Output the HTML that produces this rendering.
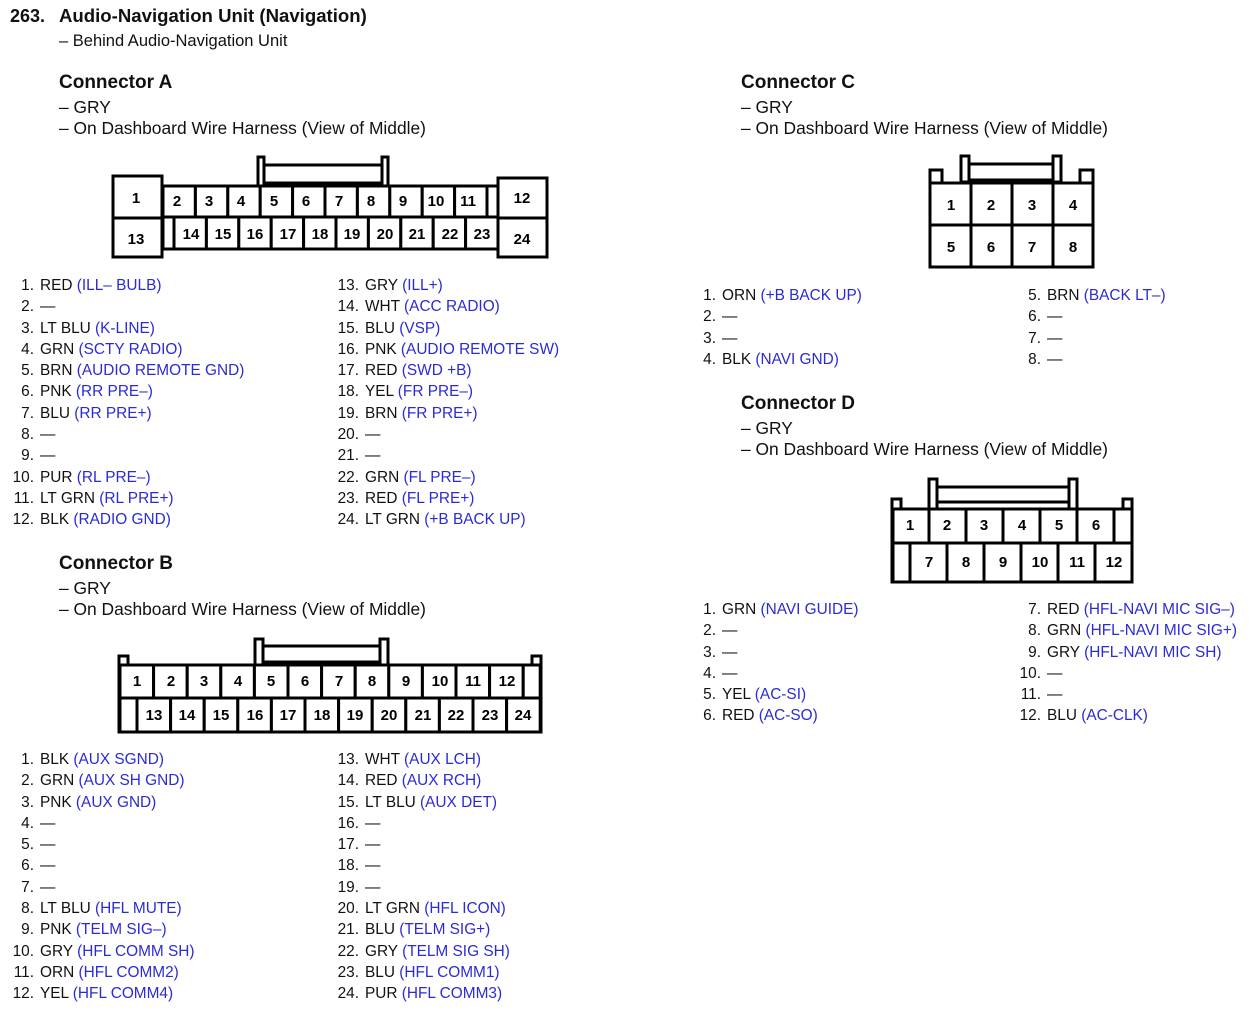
<!DOCTYPE html>
<html><head><meta charset="utf-8"><style>
body{margin:0;width:1255px;height:1015px;background:#fff;position:relative;overflow:hidden;font-family:"Liberation Sans",sans-serif;color:#111;}
.t{position:absolute;white-space:nowrap;font-size:17.4px;line-height:20px;}
.h{font-weight:bold;font-size:19px;}
.l{position:absolute;font-size:15.4px;}
.l div{height:21.3px;line-height:21.3px;white-space:nowrap;}
.n{display:inline-block;width:26px;text-align:right;margin-right:6px;}
.b{color:#2b2bd6;}
svg{position:absolute;left:0;top:0;}
svg rect,svg path{fill:#fff;stroke:#000;stroke-width:3;}
svg text{font-family:"Liberation Sans",sans-serif;font-weight:bold;font-size:15px;text-anchor:middle;fill:#000;}
</style></head><body>
<div class="t h" style="left:10px;top:6px;font-size:18px">263.</div>
<div class="t h" style="left:59px;top:6px;font-size:18.6px">Audio-Navigation Unit (Navigation)</div>
<div class="t" style="left:59px;top:31px;font-size:16.5px">– Behind Audio-Navigation Unit</div>

<div class="t h" style="left:59px;top:73px">Connector A</div>
<div class="t" style="left:59px;top:97px">– GRY</div>
<div class="t" style="left:59px;top:118px">– On Dashboard Wire Harness (View of Middle)</div>

<div class="t h" style="left:59px;top:554px">Connector B</div>
<div class="t" style="left:59px;top:578px">– GRY</div>
<div class="t" style="left:59px;top:599px">– On Dashboard Wire Harness (View of Middle)</div>

<div class="t h" style="left:741px;top:73px">Connector C</div>
<div class="t" style="left:741px;top:97px">– GRY</div>
<div class="t" style="left:741px;top:118px">– On Dashboard Wire Harness (View of Middle)</div>

<div class="t h" style="left:741px;top:394px">Connector D</div>
<div class="t" style="left:741px;top:418px">– GRY</div>
<div class="t" style="left:741px;top:439px">– On Dashboard Wire Harness (View of Middle)</div>

<svg width="1255" height="1015">
<!-- Connector A -->
<rect x="258" y="157" width="6" height="30"/><rect x="382" y="157" width="6" height="30"/>
<rect x="264" y="165" width="118" height="18"/>
<rect x="162" y="186" width="336" height="63"/>
<rect x="113" y="176" width="49" height="42"/><rect x="113" y="218" width="49" height="39"/>
<rect x="498" y="178" width="49" height="40"/><rect x="498" y="218" width="49" height="39"/>
<g>
<rect x="163" y="186" width="32.4" height="31"/><rect x="195.4" y="186" width="32.4" height="31"/><rect x="227.8" y="186" width="32.4" height="31"/><rect x="260.2" y="186" width="32.4" height="31"/><rect x="292.6" y="186" width="32.4" height="31"/><rect x="325" y="186" width="32.4" height="31"/><rect x="357.4" y="186" width="32.4" height="31"/><rect x="389.8" y="186" width="32.4" height="31"/><rect x="422.2" y="186" width="32.4" height="31"/><rect x="454.6" y="186" width="32.4" height="31"/><rect x="487" y="186" width="11" height="31"/>
<rect x="163" y="217" width="11" height="32"/><rect x="174" y="217" width="32.4" height="32"/><rect x="206.4" y="217" width="32.4" height="32"/><rect x="238.8" y="217" width="32.4" height="32"/><rect x="271.2" y="217" width="32.4" height="32"/><rect x="303.6" y="217" width="32.4" height="32"/><rect x="336" y="217" width="32.4" height="32"/><rect x="368.4" y="217" width="32.4" height="32"/><rect x="400.8" y="217" width="32.4" height="32"/><rect x="433.2" y="217" width="32.4" height="32"/><rect x="465.6" y="217" width="32.4" height="32"/>
</g>
<text x="136" y="203">1</text><text x="136" y="244">13</text><text x="522" y="203">12</text><text x="522" y="244">24</text>
<text x="177" y="206">2</text><text x="209" y="206">3</text><text x="241" y="206">4</text><text x="274" y="206">5</text><text x="306" y="206">6</text><text x="339" y="206">7</text><text x="371" y="206">8</text><text x="403" y="206">9</text><text x="436" y="206">10</text><text x="468" y="206">11</text>
<text x="191" y="239">14</text><text x="223" y="239">15</text><text x="255" y="239">16</text><text x="288" y="239">17</text><text x="320" y="239">18</text><text x="352" y="239">19</text><text x="385" y="239">20</text><text x="417" y="239">21</text><text x="450" y="239">22</text><text x="482" y="239">23</text>

<!-- Connector B -->
<rect x="255" y="639" width="8" height="27"/><rect x="380" y="639" width="8" height="27"/>
<rect x="263" y="646" width="117" height="16"/>
<path d="M119 732 V656 H128 V665 H532 V656 H541 V732 Z"/>
<g>
<rect x="120" y="665" width="33.6" height="33"/><rect x="153.6" y="665" width="33.6" height="33"/><rect x="187.2" y="665" width="33.6" height="33"/><rect x="220.8" y="665" width="33.6" height="33"/><rect x="254.4" y="665" width="33.6" height="33"/><rect x="288" y="665" width="33.6" height="33"/><rect x="321.6" y="665" width="33.6" height="33"/><rect x="355.2" y="665" width="33.6" height="33"/><rect x="388.8" y="665" width="33.6" height="33"/><rect x="422.4" y="665" width="33.6" height="33"/><rect x="456" y="665" width="33.6" height="33"/><rect x="489.6" y="665" width="33.6" height="33"/><rect x="523.2" y="665" width="17" height="33"/>
<rect x="120" y="698" width="17" height="34"/><rect x="137" y="698" width="33.6" height="34"/><rect x="170.6" y="698" width="33.6" height="34"/><rect x="204.2" y="698" width="33.6" height="34"/><rect x="237.8" y="698" width="33.6" height="34"/><rect x="271.4" y="698" width="33.6" height="34"/><rect x="305" y="698" width="33.6" height="34"/><rect x="338.6" y="698" width="33.6" height="34"/><rect x="372.2" y="698" width="33.6" height="34"/><rect x="405.8" y="698" width="33.6" height="34"/><rect x="439.4" y="698" width="33.6" height="34"/><rect x="473" y="698" width="33.6" height="34"/><rect x="506.6" y="698" width="33.6" height="34"/>
</g>
<text x="137" y="686">1</text><text x="171" y="686">2</text><text x="204" y="686">3</text><text x="238" y="686">4</text><text x="271" y="686">5</text><text x="305" y="686">6</text><text x="339" y="686">7</text><text x="372" y="686">8</text><text x="406" y="686">9</text><text x="440" y="686">10</text><text x="473" y="686">11</text><text x="507" y="686">12</text>
<text x="154" y="720">13</text><text x="187" y="720">14</text><text x="221" y="720">15</text><text x="255" y="720">16</text><text x="288" y="720">17</text><text x="322" y="720">18</text><text x="355" y="720">19</text><text x="389" y="720">20</text><text x="423" y="720">21</text><text x="456" y="720">22</text><text x="490" y="720">23</text><text x="523" y="720">24</text>

<!-- Connector C -->
<rect x="961" y="156" width="8" height="26"/><rect x="1053" y="156" width="8" height="26"/>
<rect x="969" y="164" width="84" height="16"/>
<path d="M930 267 V170 H942 V183 H1080 V170 H1093 V267 Z"/>
<rect x="930" y="183" width="41" height="42"/><rect x="971" y="183" width="41" height="42"/><rect x="1012" y="183" width="41" height="42"/><rect x="1053" y="183" width="40" height="42"/>
<rect x="930" y="225" width="41" height="42"/><rect x="971" y="225" width="41" height="42"/><rect x="1012" y="225" width="41" height="42"/><rect x="1053" y="225" width="40" height="42"/>
<text x="951" y="210">1</text><text x="991" y="210">2</text><text x="1032" y="210">3</text><text x="1073" y="210">4</text>
<text x="951" y="252">5</text><text x="991" y="252">6</text><text x="1032" y="252">7</text><text x="1073" y="252">8</text>

<!-- Connector D -->
<rect x="929" y="479" width="8" height="30"/><rect x="1069" y="479" width="8" height="30"/>
<rect x="937" y="487" width="132" height="15"/>
<path d="M892 582 V499 H901 V509 H1123 V499 H1132 V582 Z"/>
<rect x="893" y="509" width="36" height="34"/><rect x="929" y="509" width="37" height="34"/><rect x="966" y="509" width="37" height="34"/><rect x="1003" y="509" width="37" height="34"/><rect x="1040" y="509" width="37" height="34"/><rect x="1077" y="509" width="37" height="34"/><rect x="1114" y="509" width="18" height="34"/>
<rect x="893" y="543" width="17" height="39"/><rect x="910" y="543" width="37" height="39"/><rect x="947" y="543" width="37" height="39"/><rect x="984" y="543" width="37" height="39"/><rect x="1021" y="543" width="37" height="39"/><rect x="1058" y="543" width="37" height="39"/><rect x="1095" y="543" width="37" height="39"/>
<text x="910" y="530">1</text><text x="947" y="530">2</text><text x="984" y="530">3</text><text x="1022" y="530">4</text><text x="1059" y="530">5</text><text x="1096" y="530">6</text>
<text x="929" y="567">7</text><text x="966" y="567">8</text><text x="1003" y="567">9</text><text x="1040" y="567">10</text><text x="1077" y="567">11</text><text x="1114" y="567">12</text>
</svg>

<div class="l" style="left:8px;top:275px">
<div><span class="n">1.</span>RED <span class="b">(ILL– BULB)</span></div>
<div><span class="n">2.</span>—</div>
<div><span class="n">3.</span>LT BLU <span class="b">(K-LINE)</span></div>
<div><span class="n">4.</span>GRN <span class="b">(SCTY RADIO)</span></div>
<div><span class="n">5.</span>BRN <span class="b">(AUDIO REMOTE GND)</span></div>
<div><span class="n">6.</span>PNK <span class="b">(RR PRE–)</span></div>
<div><span class="n">7.</span>BLU <span class="b">(RR PRE+)</span></div>
<div><span class="n">8.</span>—</div>
<div><span class="n">9.</span>—</div>
<div><span class="n">10.</span>PUR <span class="b">(RL PRE–)</span></div>
<div><span class="n">11.</span>LT GRN <span class="b">(RL PRE+)</span></div>
<div><span class="n">12.</span>BLK <span class="b">(RADIO GND)</span></div>
</div>
<div class="l" style="left:333px;top:275px">
<div><span class="n">13.</span>GRY <span class="b">(ILL+)</span></div>
<div><span class="n">14.</span>WHT <span class="b">(ACC RADIO)</span></div>
<div><span class="n">15.</span>BLU <span class="b">(VSP)</span></div>
<div><span class="n">16.</span>PNK <span class="b">(AUDIO REMOTE SW)</span></div>
<div><span class="n">17.</span>RED <span class="b">(SWD +B)</span></div>
<div><span class="n">18.</span>YEL <span class="b">(FR PRE–)</span></div>
<div><span class="n">19.</span>BRN <span class="b">(FR PRE+)</span></div>
<div><span class="n">20.</span>—</div>
<div><span class="n">21.</span>—</div>
<div><span class="n">22.</span>GRN <span class="b">(FL PRE–)</span></div>
<div><span class="n">23.</span>RED <span class="b">(FL PRE+)</span></div>
<div><span class="n">24.</span>LT GRN <span class="b">(+B BACK UP)</span></div>
</div>

<div class="l" style="left:8px;top:749px">
<div><span class="n">1.</span>BLK <span class="b">(AUX SGND)</span></div>
<div><span class="n">2.</span>GRN <span class="b">(AUX SH GND)</span></div>
<div><span class="n">3.</span>PNK <span class="b">(AUX GND)</span></div>
<div><span class="n">4.</span>—</div>
<div><span class="n">5.</span>—</div>
<div><span class="n">6.</span>—</div>
<div><span class="n">7.</span>—</div>
<div><span class="n">8.</span>LT BLU <span class="b">(HFL MUTE)</span></div>
<div><span class="n">9.</span>PNK <span class="b">(TELM SIG–)</span></div>
<div><span class="n">10.</span>GRY <span class="b">(HFL COMM SH)</span></div>
<div><span class="n">11.</span>ORN <span class="b">(HFL COMM2)</span></div>
<div><span class="n">12.</span>YEL <span class="b">(HFL COMM4)</span></div>
</div>
<div class="l" style="left:333px;top:749px">
<div><span class="n">13.</span>WHT <span class="b">(AUX LCH)</span></div>
<div><span class="n">14.</span>RED <span class="b">(AUX RCH)</span></div>
<div><span class="n">15.</span>LT BLU <span class="b">(AUX DET)</span></div>
<div><span class="n">16.</span>—</div>
<div><span class="n">17.</span>—</div>
<div><span class="n">18.</span>—</div>
<div><span class="n">19.</span>—</div>
<div><span class="n">20.</span>LT GRN <span class="b">(HFL ICON)</span></div>
<div><span class="n">21.</span>BLU <span class="b">(TELM SIG+)</span></div>
<div><span class="n">22.</span>GRY <span class="b">(TELM SIG SH)</span></div>
<div><span class="n">23.</span>BLU <span class="b">(HFL COMM1)</span></div>
<div><span class="n">24.</span>PUR <span class="b">(HFL COMM3)</span></div>
</div>

<div class="l" style="left:690px;top:285px">
<div><span class="n">1.</span>ORN <span class="b">(+B BACK UP)</span></div>
<div><span class="n">2.</span>—</div>
<div><span class="n">3.</span>—</div>
<div><span class="n">4.</span>BLK <span class="b">(NAVI GND)</span></div>
</div>
<div class="l" style="left:1015px;top:285px">
<div><span class="n">5.</span>BRN <span class="b">(BACK LT–)</span></div>
<div><span class="n">6.</span>—</div>
<div><span class="n">7.</span>—</div>
<div><span class="n">8.</span>—</div>
</div>

<div class="l" style="left:690px;top:599px">
<div><span class="n">1.</span>GRN <span class="b">(NAVI GUIDE)</span></div>
<div><span class="n">2.</span>—</div>
<div><span class="n">3.</span>—</div>
<div><span class="n">4.</span>—</div>
<div><span class="n">5.</span>YEL <span class="b">(AC-SI)</span></div>
<div><span class="n">6.</span>RED <span class="b">(AC-SO)</span></div>
</div>
<div class="l" style="left:1015px;top:599px">
<div><span class="n">7.</span>RED <span class="b">(HFL-NAVI MIC SIG–)</span></div>
<div><span class="n">8.</span>GRN <span class="b">(HFL-NAVI MIC SIG+)</span></div>
<div><span class="n">9.</span>GRY <span class="b">(HFL-NAVI MIC SH)</span></div>
<div><span class="n">10.</span>—</div>
<div><span class="n">11.</span>—</div>
<div><span class="n">12.</span>BLU <span class="b">(AC-CLK)</span></div>
</div>
</body></html>
